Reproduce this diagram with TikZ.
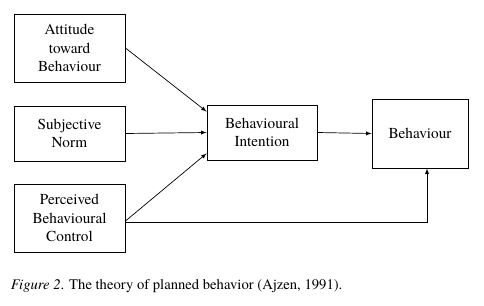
\documentclass[tikz,border=0pt]{standalone}
\usepackage{fontspec}
\setmainfont{texgyretermes}[Extension=.otf,UprightFont=*-regular,ItalicFont=*-italic,BoldFont=*-bold]
\usetikzlibrary{arrows,calc}
\tikzset{
  tpbbox/.style={draw,thick,align=center,inner sep=2pt,font=\fontsize{13}{15.5}\selectfont},
  tpbarrow/.style={-latex,line width=0.6pt}
}
\begin{document}
\begin{tikzpicture}
\useasboundingbox (0,0) rectangle (14.52,-9.18);
\node[tpbbox,minimum width=3.33cm,minimum height=2.04cm] (att) at (2.085,-1.44) {Attitude\\toward\\Behaviour};
\node[tpbbox,minimum width=3.33cm,minimum height=1.65cm] (norm) at (2.085,-4.005) {Subjective\\Norm};
\node[tpbbox,minimum width=3.33cm,minimum height=2.04cm] (pbc) at (2.085,-6.54) {Perceived\\Behavioural\\Control};
\node[tpbbox,minimum width=3.3cm,minimum height=1.65cm] (bi) at (7.86,-3.975) {Behavioural\\Intention};
\node[tpbbox,minimum width=2.88cm,minimum height=2.07cm] (beh) at (12.6,-4.005) {Behaviour};
\draw[tpbarrow] (att.east) -- ($(bi.north west)+(0,-0.21)$);
\draw[tpbarrow] (norm.east) -- (bi.west);
\draw[tpbarrow] ($(pbc.east)+(0,-0.09)$) -- ($(bi.south west)+(0,0.21)$);
\draw[tpbarrow] ($(pbc.east)+(0,-0.12)$) -| ($(beh.south)+(0.21,0)$);
\draw[tpbarrow] (bi.east) -- (beh.west);
\node[anchor=west,font=\fontsize{12.5}{15}\selectfont] (cap) at (0.2,-8.58) {\textit{Figure 2}. The theory of planned behavior (Ajzen, 1991).};
\end{tikzpicture}
\end{document}
